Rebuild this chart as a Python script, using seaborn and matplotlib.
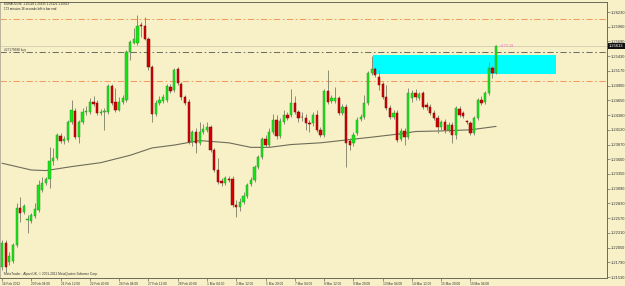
import matplotlib
matplotlib.use("Agg")
import matplotlib.pyplot as plt
import seaborn as sns
import numpy as np
import pandas as pd
from matplotlib.patches import Rectangle

sns.set_style("white")
plt.rcParams['font.family'] = ['Liberation Sans', 'DejaVu Sans']

# ---------------- data (EURAUD H4) ----------------
opens = [1.2171, 1.2213, 1.2180, 1.2181, 1.2210, 1.2275, 1.2268, 1.2254, 1.2252, 1.2261,
         1.2271, 1.2307, 1.2319, 1.2326, 1.2358, 1.2363, 1.2402, 1.2393, 1.2395, 1.2427,
         1.2446, 1.2400, 1.2427, 1.2444, 1.2444, 1.2462, 1.2460, 1.2443, 1.2444, 1.2444,
         1.2490, 1.2462, 1.2448, 1.2462, 1.2466, 1.2550, 1.2566, 1.2566, 1.2598, 1.2596,
         1.2573, 1.2524, 1.2441, 1.2460, 1.2464, 1.2466, 1.2489, 1.2483, 1.2520, 1.2494,
         1.2471, 1.2462, 1.2391, 1.2409, 1.2390, 1.2409, 1.2413, 1.2418, 1.2377, 1.2342,
         1.2323, 1.2319, 1.2326, 1.2326, 1.2280, 1.2277, 1.2285, 1.2296, 1.2317, 1.2324,
         1.2347, 1.2365, 1.2397, 1.2386, 1.2409, 1.2430, 1.2402, 1.2427, 1.2439, 1.2439,
         1.2460, 1.2444, 1.2436, 1.2434, 1.2425, 1.2425, 1.2439, 1.2413, 1.2404, 1.2481,
         1.2464, 1.2464, 1.2469, 1.2443, 1.2453, 1.2393, 1.2390, 1.2407, 1.2432, 1.2436,
         1.2460, 1.2513, 1.2520, 1.2506, 1.2494, 1.2471, 1.2451, 1.2436, 1.2443, 1.2397,
         1.2411, 1.2400, 1.2469, 1.2478, 1.2469, 1.2478, 1.2457, 1.2453, 1.2443, 1.2434,
         1.2418, 1.2427, 1.2413, 1.2421, 1.2404, 1.2450, 1.2443, 1.2429, 1.2425, 1.2407,
         1.2434, 1.2466, 1.2462, 1.2478, 1.2522, 1.25128]
highs = [1.2218, 1.2218, 1.2197, 1.2213, 1.2284, 1.2294, 1.2282, 1.2263, 1.2266, 1.2284,
         1.2324, 1.2330, 1.2330, 1.2383, 1.2381, 1.2407, 1.2407, 1.2402, 1.2430, 1.2466,
         1.2451, 1.2430, 1.2451, 1.2455, 1.2469, 1.2473, 1.2466, 1.2450, 1.2451, 1.2494,
         1.2494, 1.2487, 1.2471, 1.2474, 1.2554, 1.2572, 1.2593, 1.2616, 1.2603, 1.2612,
         1.2577, 1.2527, 1.2466, 1.2473, 1.2476, 1.2494, 1.2494, 1.2522, 1.2524, 1.2497,
         1.2474, 1.2467, 1.2413, 1.2416, 1.2427, 1.2423, 1.2427, 1.2421, 1.2381, 1.2363,
         1.2328, 1.2331, 1.2331, 1.2331, 1.2289, 1.2293, 1.2303, 1.2319, 1.2330, 1.2351,
         1.2368, 1.2400, 1.2404, 1.2416, 1.2441, 1.2439, 1.2434, 1.2448, 1.2444, 1.2485,
         1.2473, 1.2448, 1.2444, 1.2441, 1.2430, 1.2444, 1.2448, 1.2418, 1.2485, 1.2519,
         1.2474, 1.2489, 1.2473, 1.2459, 1.2459, 1.2398, 1.2409, 1.2436, 1.2441, 1.2474,
         1.2517, 1.2543, 1.2524, 1.2519, 1.2497, 1.2492, 1.2457, 1.2448, 1.2448, 1.2416,
         1.2416, 1.2487, 1.2483, 1.2485, 1.2480, 1.2481, 1.2462, 1.2459, 1.2448, 1.2439,
         1.2430, 1.2432, 1.2427, 1.2427, 1.2455, 1.2455, 1.2446, 1.2430, 1.2429, 1.2437,
         1.2469, 1.2473, 1.2481, 1.2533, 1.2526, 1.25635]
lows = [1.2165, 1.2162, 1.2174, 1.2178, 1.2206, 1.2250, 1.2264, 1.2231, 1.2248, 1.2257,
        1.2268, 1.2303, 1.2316, 1.2310, 1.2351, 1.2360, 1.2390, 1.2388, 1.2391, 1.2423,
        1.2397, 1.2390, 1.2423, 1.2439, 1.2441, 1.2455, 1.2439, 1.2439, 1.2413, 1.2441,
        1.2457, 1.2444, 1.2446, 1.2459, 1.2462, 1.2536, 1.2565, 1.2563, 1.2577, 1.2572,
        1.2519, 1.2427, 1.2437, 1.2457, 1.2460, 1.2462, 1.2478, 1.2480, 1.2492, 1.2466,
        1.2457, 1.2388, 1.2384, 1.2372, 1.2386, 1.2406, 1.2409, 1.2374, 1.2338, 1.2317,
        1.2314, 1.2316, 1.2321, 1.2277, 1.2259, 1.2270, 1.2282, 1.2293, 1.2314, 1.2321,
        1.2344, 1.2361, 1.2383, 1.2383, 1.2406, 1.2397, 1.2398, 1.2423, 1.2430, 1.2436,
        1.2441, 1.2427, 1.2429, 1.2413, 1.2409, 1.2420, 1.2409, 1.2400, 1.2400, 1.2459,
        1.2460, 1.2460, 1.2439, 1.2439, 1.2347, 1.2377, 1.2384, 1.2404, 1.2429, 1.2432,
        1.2457, 1.2510, 1.2506, 1.2483, 1.2467, 1.2448, 1.2432, 1.2432, 1.2391, 1.2393,
        1.2386, 1.2397, 1.2462, 1.2466, 1.2466, 1.2450, 1.2448, 1.2439, 1.2430, 1.2407,
        1.2413, 1.2407, 1.2409, 1.2390, 1.2397, 1.2436, 1.2434, 1.2423, 1.2404, 1.2404,
        1.2430, 1.2457, 1.2459, 1.2474, 1.2505, 1.25122]
closes = [1.2213, 1.2171, 1.2190, 1.2210, 1.2275, 1.2266, 1.2278, 1.2255, 1.2263, 1.2273,
          1.2316, 1.2319, 1.2326, 1.2358, 1.2363, 1.2404, 1.2393, 1.2397, 1.2427, 1.2448,
          1.2400, 1.2427, 1.2444, 1.2446, 1.2462, 1.2459, 1.2443, 1.2444, 1.2446, 1.2490,
          1.2460, 1.2448, 1.2462, 1.2469, 1.2550, 1.2568, 1.2573, 1.2596, 1.2597, 1.2573,
          1.2524, 1.2441, 1.2460, 1.2466, 1.2471, 1.2490, 1.2481, 1.2519, 1.2496, 1.2471,
          1.2460, 1.2391, 1.2409, 1.2390, 1.2409, 1.2414, 1.2418, 1.2377, 1.2342, 1.2321,
          1.2319, 1.2328, 1.2325, 1.2280, 1.2277, 1.2285, 1.2296, 1.2316, 1.2324, 1.2347,
          1.2365, 1.2397, 1.2386, 1.2409, 1.2430, 1.2402, 1.2429, 1.2439, 1.2434, 1.2460,
          1.2444, 1.2434, 1.2435, 1.2425, 1.2423, 1.2439, 1.2413, 1.2404, 1.2481, 1.2462,
          1.2469, 1.2469, 1.2443, 1.2453, 1.2390, 1.2386, 1.2404, 1.2430, 1.2436, 1.2460,
          1.2513, 1.2520, 1.2510, 1.2492, 1.2471, 1.2451, 1.2436, 1.2443, 1.2395, 1.2411,
          1.2400, 1.2478, 1.2478, 1.2471, 1.2476, 1.2453, 1.2453, 1.2443, 1.2434, 1.2418,
          1.2427, 1.2413, 1.2421, 1.2404, 1.2451, 1.2439, 1.2437, 1.2427, 1.2407, 1.2434,
          1.2466, 1.2460, 1.2478, 1.2522, 1.2513, 1.25613]

# moving average read at selected bars
ma_bars = [0, 8, 12, 19, 27, 35, 41, 47, 54, 62, 68, 73, 79, 87, 94, 101, 109, 113, 120, 128, 135]
ma_vals = [1.2354, 1.2342, 1.2341, 1.2348, 1.2355, 1.2368, 1.2381, 1.2386, 1.2394, 1.2390,
           1.2382, 1.2382, 1.2387, 1.2390, 1.2395, 1.2400, 1.2406, 1.2410, 1.2411, 1.2413, 1.2419]

# horizontal levels
level_upper = 1.26086
level_lower = 1.24992
order_level = 1.25504
bid_price = 1.25613

# cyan zone
zone_start, zone_end = 101.4, 151.4
zone_low, zone_high = 1.25115, 1.25451

x_tick_bars = [0, 8, 16, 24, 32, 40, 48, 56, 64, 72, 80, 88, 96, 104, 112, 120, 128]
x_tick_labels = ["16 Feb 2012", "20 Feb 04:00", "21 Feb 12:00", "22 Feb 20:00", "24 Feb 04:00",
                 "27 Feb 12:00", "28 Feb 20:00", "1 Mar 04:00", "2 Mar 12:00", "5 Mar 20:00",
                 "7 Mar 04:00", "8 Mar 12:00", "9 Mar 20:00", "13 Mar 04:00", "14 Mar 12:00",
                 "15 Mar 20:00", "19 Mar 04:00"]
y_tick_vals = [1.21530, 1.21790, 1.22050, 1.22310, 1.22570, 1.22830, 1.23090, 1.23350, 1.23610,
               1.23870, 1.24130, 1.24390, 1.24650, 1.24910, 1.25170, 1.25430, 1.25690, 1.25950,
               1.26210]
y_tick_labels = ["1.21530", "1.21790", "1.22050", "1.22310", "1.22570", "1.22830", "1.23090",
                 "1.23350", "1.23600", "1.23870", "1.24120", "1.24380", "1.24650", "1.24900",
                 "1.25170", "1.25430", "1.25690", "1.25960", "1.26230"]

# ---------------- styling ----------------
BG = '#F8F1C8'
WICK = '#8c8a72'
GREEN = '#14e614'
GREEN_EDGE = '#2f9a2f'
RED = '#d60000'
RED_EDGE = '#7a0a0a'
AXC = '#6b6a5a'
ORANGE = '#F4995C'

df = pd.DataFrame(dict(bar=np.arange(len(opens)), o=opens, h=highs, l=lows, c=closes))
up = df.c >= df.o

W, H = 625, 286
fig = plt.figure(figsize=(W / 100, H / 100), dpi=100)
fig.patch.set_facecolor(BG)
ax = fig.add_axes([0.0, 1 - 278 / H, 607 / W, 276 / H])
ax.set_facecolor(BG)

ax.set_xlim(-0.55, 165.3)
ax.set_ylim(1.21513, 1.26387)

# zone
ax.add_patch(Rectangle((zone_start, zone_low), zone_end - zone_start, zone_high - zone_low,
                       facecolor='#00FFFF', edgecolor='none', zorder=1))

# levels
dd = (0, (6, 2.5, 1.5, 2.5))
ax.axhline(level_upper, color=ORANGE, lw=0.75, ls=dd, zorder=1.5)
ax.axhline(level_lower, color=ORANGE, lw=0.75, ls=dd, zorder=1.5)
ax.axhline(order_level, color='#6f6f66', lw=0.75, ls=dd, zorder=1.5)
ax.axhline(bid_price, color='#d2cdb2', lw=0.6, zorder=1.4)

# moving average
sns.lineplot(x=ma_bars, y=ma_vals, ax=ax, color='#6e6c58', lw=0.8, zorder=2)

# candles
ax.vlines(df.bar, df.l, df.h, color=WICK, lw=0.7, zorder=3)
mind = 0.00004
bodies_up = np.maximum(df.c - df.o, mind)
bodies_dn = np.maximum(df.o - df.c, mind)
ax.bar(df.bar[up], bodies_up[up], bottom=df.o[up], width=0.62, color=GREEN,
       edgecolor=GREEN_EDGE, lw=0.35, zorder=4)
ax.bar(df.bar[~up], bodies_dn[~up], bottom=df.c[~up], width=0.62, color=RED,
       edgecolor=RED_EDGE, lw=0.35, zorder=4)

# axes / ticks
for s in ['top', 'left', 'right', 'bottom']:
    ax.spines[s].set_color(AXC)
    ax.spines[s].set_linewidth(0.7)
ax.spines['left'].set_color('#b9b49a')
ax.yaxis.tick_right()
ax.set_yticks(y_tick_vals)
ax.set_yticklabels(y_tick_labels)
ax.set_xticks(x_tick_bars)
ax.set_xticklabels(x_tick_labels)
ax.tick_params(axis='y', which='both', right=True, left=False, length=2, width=0.5,
               color=AXC, pad=1, labelsize=2.9, labelcolor='#333333')
ax.tick_params(axis='x', which='both', bottom=True, length=2, width=0.5,
               color=AXC, pad=0.6, labelsize=2.35, labelcolor='#333333')
for lab in ax.get_xticklabels():
    lab.set_horizontalalignment('left')
ax.set_xlabel('')
ax.set_ylabel('')

# texts
ax.text(0.006, 0.993, "EURAUD,H4  1.25128 1.25635 1.25122 1.25613", transform=fig.transFigure,
        fontsize=2.15, color='#222222', va='top', ha='left')
ax.text(0.006, 0.974, "173 minutes 16 seconds left to bar end", transform=fig.transFigure,
        fontsize=2.15, color='#222222', va='top', ha='left')
ax.text(4 / W, 1 - 52 / H, "#27179688 buy", transform=fig.transFigure,
        fontsize=2.3, color='#333333', va='bottom', ha='left')
ax.text(500 / W, 1 - 46 / H, "<173.18", transform=fig.transFigure,
        fontsize=2.8, color='#ee66cc', va='center', ha='left')
ax.text(4 / W, 1 - 274 / H, "MetaTrader - Alpari UK, \u00a9 2001-2011 MetaQuotes Software Corp.",
        transform=fig.transFigure, fontsize=2.3, color='#333333', va='center', ha='left')
# current price marker on the price scale
fig.text(609 / W, 1 - 46.4 / H, "1.25613", fontsize=2.9, color='white', va='center', ha='left',
         bbox=dict(boxstyle='square,pad=0.25', facecolor='#111111', edgecolor='none'))

fig.savefig('out.png', dpi=100, facecolor=BG)
